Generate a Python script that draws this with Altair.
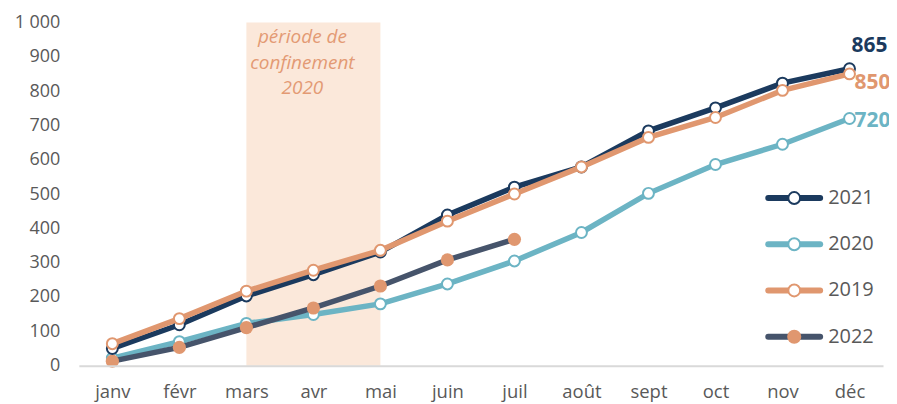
import altair as alt
import pandas as pd

months = ["janv", "févr", "mars", "avr", "mai", "juin", "juil", "août", "sept", "oct", "nov", "déc"]
v2021 = [50, 119, 203, 265, 331, 439, 520, 579, 684, 751, 823, 865]
v2020 = [22, 70, 123, 149, 180, 238, 305, 388, 502, 586, 645, 720]
v2019 = [64, 137, 217, 278, 336, 421, 500, 579, 665, 723, 802, 850]
v2022 = [13, 53, 111, 168, 232, 308, 368]

years = ["2021", "2020", "2019", "2022"]
line_colors = ["#1b3a5e", "#6cb4c4", "#e0976f", "#46546b"]
marker_fills = ["#ffffff", "#ffffff", "#ffffff", "#e0976f"]
draw_order = ["2020", "2022", "2021", "2019"]

series = {"2021": v2021, "2020": v2020, "2019": v2019, "2022": v2022}
rows = []
for y in years:
    for m, v in zip(months, series[y]):
        rows.append({"year": y, "month": m, "value": v})
df = pd.DataFrame(rows)

FONT = "Open Sans"
xscale = alt.Scale(domain=months, type="point", padding=0.5)
xaxis = alt.Axis(title=None, ticks=False, labelAngle=0, labelAlign="center", labelFlush=False,
                 labelFontSize=18.5, labelColor="#595959", labelFont=FONT, labelPadding=26,
                 labelBaseline="middle", domainColor="#d9d9d9", domainWidth=2, grid=False,
                 labelOverlap=False)
xs = alt.X("month:N", sort=months, scale=xscale, axis=xaxis)
ys = alt.Y("value:Q", scale=alt.Scale(domain=[0, 1000], nice=False),
           axis=alt.Axis(title=None, ticks=False, domain=False, grid=False, values=list(range(0, 1001, 100)),
                         labelExpr="replace(format(datum.value, ','), ',', ' ')", labelFontSize=18,
                         labelColor="#595959", labelFont=FONT, labelPadding=19, labelOverlap=False,
                         labelFlush=False))

stroke_scale = alt.Scale(domain=years, range=line_colors)
fill_scale = alt.Scale(domain=years, range=marker_fills)

box_df = pd.DataFrame({"month": ["mars"], "month2": ["mai"], "value": [0], "value2": [1000]})
box = alt.Chart(box_df).mark_rect(color="#fbe8da").encode(x=xs, x2="month2:N", y=ys, y2="value2:Q")

note_df = pd.DataFrame({"month": ["avr"], "t": ["période de\nconfinement\n2020"]})
note = alt.Chart(note_df).mark_text(
    font=FONT, fontStyle="italic", fontSize=19, color="#e39a74", lineBreak="\n", lineHeight=25.5,
    baseline="middle", align="center", dx=-11).encode(x=xs, y=alt.value(15), text="t:N")

layers = [box, note]
for y in draw_order:
    d = df[df.year == y]
    base = alt.Chart(d).encode(x=xs, y=ys)
    ln = base.mark_line(strokeWidth=5.5, strokeCap="round").encode(
        stroke=alt.Stroke("year:N", scale=stroke_scale, legend=None))
    if y == "2022":
        pt = base.mark_point(filled=True, size=175, opacity=1, shape="circle").encode(
            fill=alt.Fill("year:N", scale=fill_scale, legend=None))
    else:
        pt = base.mark_point(filled=True, size=120, opacity=1, shape="circle", strokeWidth=2).encode(
            fill=alt.Fill("year:N", scale=fill_scale, legend=None),
            stroke=alt.Stroke("year:N", scale=stroke_scale, legend=None))
    layers += [ln, pt]

end_offsets = {"2021": (20, -23), "2019": (23, 9), "2020": (23, 2)}
for y, (dx, dy) in end_offsets.items():
    d = df[(df.year == y) & (df.month == "déc")]
    layers.append(alt.Chart(d).mark_text(font=FONT, fontWeight="bold", fontSize=21, dx=dx, dy=dy,
                                         align="center", baseline="middle").encode(
        x=xs, y=ys, text="value:Q",
        color=alt.Color("year:N", scale=stroke_scale, legend=None)))

main = alt.layer(*layers)

leg_df = pd.DataFrame({"year": years, "row": list(range(len(years)))})
ly = alt.Y("row:Q", scale=alt.Scale(domain=[0, 3], range=[176, 315]), axis=None)
leg_base = alt.Chart(leg_df)
leg_line = leg_base.mark_rule(strokeWidth=6, strokeCap="round").encode(
    x=alt.value(691), x2=alt.value(743), y=ly,
    stroke=alt.Stroke("year:N", scale=stroke_scale, legend=None))
leg_pt_hollow = leg_base.transform_filter("datum.year != '2022'").mark_point(
    filled=True, size=140, opacity=1, strokeWidth=2).encode(
    x=alt.value(717), y=ly,
    fill=alt.Fill("year:N", scale=fill_scale, legend=None),
    stroke=alt.Stroke("year:N", scale=stroke_scale, legend=None))
leg_pt_full = leg_base.transform_filter("datum.year == '2022'").mark_point(
    filled=True, size=200, opacity=1).encode(
    x=alt.value(717), y=ly,
    fill=alt.Fill("year:N", scale=fill_scale, legend=None))
leg_txt = leg_base.mark_text(font=FONT, fontSize=20, color="#595959", align="left", baseline="middle").encode(
    x=alt.value(751), y=ly, text="year:N")
legend = alt.layer(leg_line, leg_pt_hollow, leg_pt_full, leg_txt)

chart = alt.layer(main, legend).resolve_scale(y="independent").properties(
    width=806, height=344,
    autosize=alt.AutoSizeParams(type="none"),
    padding={"left": 71, "top": 14, "right": 6, "bottom": 38},
).configure_view(stroke=None)

chart.save("out.html", embed_options={"renderer": "svg", "actions": False})
